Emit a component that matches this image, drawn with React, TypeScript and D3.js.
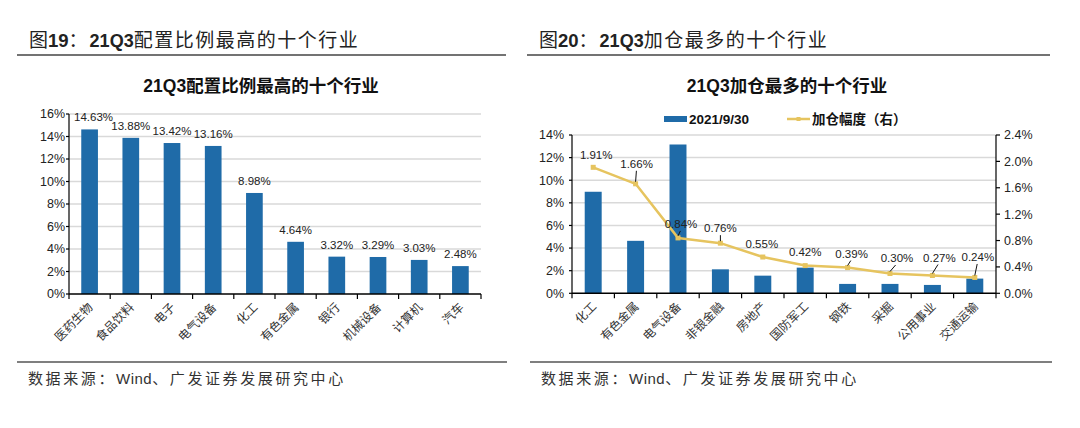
import React from 'react';
import * as d3 from 'd3';

// ---------- data ----------
const leftCategories = ['医药生物', '食品饮料', '电子', '电气设备', '化工', '有色金属', '银行', '机械设备', '计算机', '汽车'];
const leftValues = [14.63, 13.88, 13.42, 13.16, 8.98, 4.64, 3.32, 3.29, 3.03, 2.48];
const leftTicks = [0, 2, 4, 6, 8, 10, 12, 14, 16];

const rightCategories = ['化工', '有色金属', '电气设备', '非银金融', '房地产', '国防军工', '钢铁', '采掘', '公用事业', '交通运输'];
const rightBarValues = [8.98, 4.64, 13.16, 2.12, 1.56, 2.27, 0.83, 0.83, 0.74, 1.3];
const rightLineValues = [1.91, 1.66, 0.84, 0.76, 0.55, 0.42, 0.39, 0.3, 0.27, 0.24];
const rightLeftTicks = [0, 2, 4, 6, 8, 10, 12, 14];
const rightRightTicks = [0, 0.4, 0.8, 1.2, 1.6, 2.0, 2.4];

const barSeriesName = '2021/9/30';
const lineSeriesName = '加仓幅度（右）';

// ---------- layout / style ----------
const W = 1080;
const H = 428;
const BAR = '#1F6BA8';
const LINE = '#E6C45F';
const GRID = '#D9D9D9';
const LATIN = "'Liberation Sans', Arial, 'Noto Sans CJK SC', sans-serif";
const CJK = "'Noto Sans CJK SC', 'Liberation Sans', sans-serif";

// label placement for line labels: [dx, dy] of label centre relative to point, leader flag
const lineLabelLayout: [number, number, boolean][] = [
  [3, -12, false],
  [1, -20, true],
  [3, -14, true],
  [0, -15, true],
  [-1, -13, false],
  [0, -13.5, false],
  [4, -14, true],
  [7, -15.5, true],
  [7, -18, true],
  [3, -20.5, true],
];

function PanelFrame({ x0, x1, num, rest }: { x0: number; x1: number; num: string; rest: string }) {
  return (
    <g>
      <text x={x0 + 12} y={47} fontSize={19} fill="#222" fontFamily={CJK}>
        <tspan>图</tspan>
        <tspan fontFamily={LATIN} fontWeight="bold" fontSize={18.5}>{num}</tspan>
        <tspan>：</tspan>
        <tspan fontFamily={LATIN} fontWeight="bold" fontSize={18} dx={2}>21Q3</tspan>
        <tspan letterSpacing={1.5}>{rest}</tspan>
      </text>
      <line x1={x0} x2={x1} y1={55} y2={55} stroke="#444" strokeWidth={1.5} />
    </g>
  );
}

function Footer({ x0, x1 }: { x0: number; x1: number }) {
  return (
    <g>
      <line x1={x0} x2={x1} y1={362} y2={362} stroke="#555" strokeWidth={1.5} />
      <text x={x0 + 11} y={384} fontSize={15} fill="#333" fontFamily={CJK} letterSpacing={2.6}>
        <tspan>数据来源：</tspan>
        <tspan fontFamily={LATIN} letterSpacing={0.5}>Wind</tspan>
        <tspan>、广发证券发展研究中心</tspan>
      </text>
    </g>
  );
}

function LeftChart() {
  const plotL = 69, plotR = 481, plotT = 114, plotB = 294;
  const x = d3.scaleBand<string>().domain(leftCategories).range([plotL, plotR]).paddingInner(0.595).paddingOuter(0.2975);
  const y = d3.scaleLinear().domain([0, 16]).range([plotB, plotT]);
  const step = x.step();
  const bounds = d3.range(leftCategories.length + 1).map((i) => plotL + i * step);
  return (
    <g>
      <text x={261} y={92} textAnchor="middle" fontSize={17.5} fontWeight="bold" fill="#111" fontFamily={CJK}>
        <tspan fontFamily={LATIN}>21Q3</tspan>配置比例最高的十个行业
      </text>
      {leftTicks.filter((t) => t > 0).map((t) => (
        <line key={t} x1={plotL} x2={plotR} y1={y(t)} y2={y(t)} stroke={GRID} strokeWidth={1.5} />
      ))}
      {leftCategories.map((c, i) => (
        <rect key={c} x={x(c)} y={y(leftValues[i])} width={x.bandwidth()} height={plotB - y(leftValues[i])} fill={BAR} />
      ))}
      {leftCategories.map((c, i) => (
        <text key={c} x={(x(c) as number) + x.bandwidth() / 2 + (i === 0 ? 4 : 0)} y={y(leftValues[i]) - 8}
          textAnchor="middle" fontSize={11.5} fill="#222" fontFamily={LATIN}>
          {leftValues[i].toFixed(2)}%
        </text>
      ))}
      {/* axes */}
      <line x1={plotL} x2={plotL} y1={plotT} y2={plotB} stroke="#000" strokeWidth={1.2} />
      {leftTicks.map((t) => (
        <g key={t}>
          <line x1={plotL - 3} x2={plotL} y1={y(t)} y2={y(t)} stroke="#000" strokeWidth={1.2} />
          <text x={plotL - 4} y={y(t)} dy="0.35em" textAnchor="end" fontSize={12.5} fill="#222" fontFamily={LATIN}>{t}%</text>
        </g>
      ))}
      <line x1={plotL} x2={plotR} y1={plotB} y2={plotB} stroke="#000" strokeWidth={1.5} />
      {bounds.map((b, i) => (
        <line key={i} x1={b} x2={b} y1={plotB} y2={plotB + 5} stroke="#000" strokeWidth={1.2} />
      ))}
      {leftCategories.map((c) => {
        const cx = (x(c) as number) + x.bandwidth() / 2;
        return (
          <text key={c} transform={`translate(${cx + 4},${plotB + 14}) rotate(-45)`} textAnchor="end"
            fontSize={12} fill="#333" fontFamily={CJK}>{c}</text>
        );
      })}
    </g>
  );
}

function RightChart() {
  const plotL = 572, plotR = 996, plotT = 135, plotB = 293.3;
  const x = d3.scaleBand<string>().domain(rightCategories).range([plotL, plotR]).paddingInner(0.6).paddingOuter(0.3);
  const yL = d3.scaleLinear().domain([0, 14]).range([plotB, plotT]);
  const yR = d3.scaleLinear().domain([0, 2.4]).range([plotB, plotT]);
  const step = x.step();
  const bounds = d3.range(rightCategories.length + 1).map((i) => plotL + i * step);
  const cx = (c: string) => (x(c) as number) + x.bandwidth() / 2;
  const linePath = d3.line<number>().x((_, i) => cx(rightCategories[i])).y((v) => yR(v))(rightLineValues) || '';
  return (
    <g>
      <text x={787} y={92} textAnchor="middle" fontSize={17.5} fontWeight="bold" fill="#111" fontFamily={CJK}>
        <tspan fontFamily={LATIN}>21Q3</tspan>加仓最多的十个行业
      </text>
      {/* legend */}
      <rect x={664} y={116} width={23} height={6} fill={BAR} />
      <text x={689} y={124} fontSize={13.5} fontWeight="bold" fill="#111" fontFamily={LATIN}>{barSeriesName}</text>
      <line x1={787} x2={810} y1={119} y2={119} stroke={LINE} strokeWidth={2.5} />
      <rect x={796.5} y={117} width={4} height={4} fill={LINE} />
      <text x={812} y={124} fontSize={13.5} fontWeight={600} fill="#111" fontFamily={CJK}>{lineSeriesName}</text>

      {rightLeftTicks.filter((t) => t > 0).map((t) => (
        <line key={t} x1={plotL} x2={plotR} y1={yL(t)} y2={yL(t)} stroke={GRID} strokeWidth={1.5} />
      ))}
      {rightCategories.map((c, i) => (
        <rect key={c} x={x(c)} y={yL(rightBarValues[i])} width={x.bandwidth()} height={plotB - yL(rightBarValues[i])} fill={BAR} />
      ))}
      <path d={linePath} fill="none" stroke={LINE} strokeWidth={2.5} strokeLinejoin="round" />
      {rightLineValues.map((v, i) => (
        <rect key={i} x={cx(rightCategories[i]) - 2.5} y={yR(v) - 2.5} width={5} height={5} fill={LINE} />
      ))}
      {rightLineValues.map((v, i) => {
        const [dx, dy, leader] = lineLabelLayout[i];
        const px = cx(rightCategories[i]);
        const py = yR(v);
        const lx = px + dx;
        const ly = py + dy;
        return (
          <g key={i}>
            {leader && (
              <line x1={px + dx * 0.8} y1={ly + 7} x2={px} y2={py - 2} stroke="#111" strokeWidth={1} />
            )}
            <text x={lx} y={ly} dy="0.35em" textAnchor="middle" fontSize={11.5} fill="#222" fontFamily={LATIN}>
              {v.toFixed(2)}%
            </text>
          </g>
        );
      })}
      {/* left axis */}
      <line x1={plotL} x2={plotL} y1={plotT} y2={plotB} stroke="#000" strokeWidth={1.2} />
      {rightLeftTicks.map((t) => (
        <g key={t}>
          <line x1={plotL - 3} x2={plotL} y1={yL(t)} y2={yL(t)} stroke="#000" strokeWidth={1.2} />
          <text x={plotL - 8} y={yL(t)} dy="0.35em" textAnchor="end" fontSize={12.5} fill="#222" fontFamily={LATIN}>{t}%</text>
        </g>
      ))}
      {/* right axis */}
      <line x1={plotR} x2={plotR} y1={plotT} y2={plotB} stroke="#000" strokeWidth={1.2} />
      {rightRightTicks.map((t) => (
        <g key={t}>
          <line x1={plotR} x2={plotR + 4} y1={yR(t)} y2={yR(t)} stroke="#000" strokeWidth={1.2} />
          <text x={plotR + 8} y={yR(t)} dy="0.35em" textAnchor="start" fontSize={12.5} fill="#222" fontFamily={LATIN}>{t.toFixed(1)}%</text>
        </g>
      ))}
      <line x1={plotL} x2={plotR} y1={plotB} y2={plotB} stroke="#000" strokeWidth={1.5} />
      {bounds.map((b, i) => (
        <line key={i} x1={b} x2={b} y1={plotB} y2={plotB + 5} stroke="#000" strokeWidth={1.2} />
      ))}
      {rightCategories.map((c) => (
        <text key={c} transform={`translate(${cx(c) + 4},${plotB + 14}) rotate(-45)`} textAnchor="end"
          fontSize={12} fill="#333" fontFamily={CJK}>{c}</text>
      ))}
    </g>
  );
}

export default function App() {
  return (
    <svg width={W} height={H} viewBox={`0 0 ${W} ${H}`} style={{ position: 'absolute', left: 0, top: 0, background: '#fff' }}>
      <rect width={W} height={H} fill="#fff" />
      <PanelFrame x0={17} x1={506} num="19" rest="配置比例最高的十个行业" />
      <PanelFrame x0={527} x1={1050} num="20" rest="加仓最多的十个行业" />
      <LeftChart />
      <RightChart />
      <Footer x0={17} x1={507} />
      <Footer x0={530} x1={1052} />
    </svg>
  );
}
